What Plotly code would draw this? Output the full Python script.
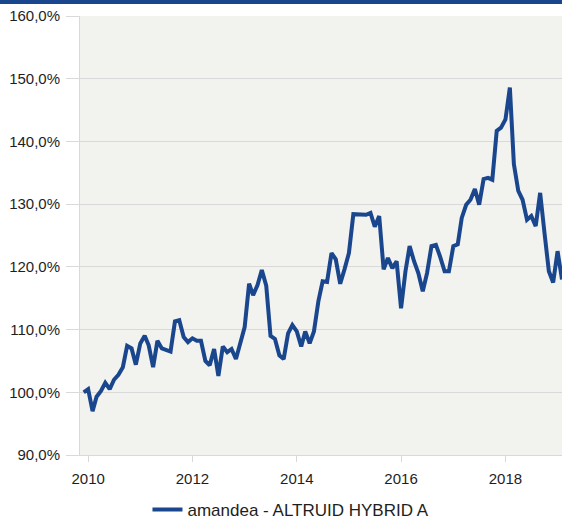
import pandas as pd
import plotly.graph_objects as go

# Monthly performance index of the fund (start = 100 %)
start_month = "2009-12-01"
fund_name = "amandea - ALTRUID HYBRID A"
fund_values = [
    100.0, 100.5, 97.0, 99.3, 100.2, 101.5, 100.5, 102.0, 102.8, 104.0,
    107.4, 107.0, 104.4, 107.8, 109.0, 107.5, 104.0, 108.2, 107.0, 106.8,
    106.5, 111.3, 111.5, 108.8, 108.0, 108.6, 108.2, 108.2, 105.0, 104.3,
    106.9, 102.6, 107.3, 106.4, 106.9, 105.3, 107.7, 110.4, 117.3, 115.5,
    117.1, 119.5, 117.0, 109.0, 108.5, 105.9, 105.3, 109.4, 110.7, 109.7,
    107.3, 109.7, 107.8, 109.7, 114.5, 117.7, 117.6, 122.2, 121.2, 117.3,
    119.6, 122.2, 128.4, 128.4, 128.4, 128.3, 128.6, 126.4, 128.1, 119.6,
    121.4, 119.8, 120.9, 113.4, 119.3, 123.3, 120.9, 119.0, 116.1, 119.0,
    123.3, 123.5, 121.6, 119.3, 119.3, 123.3, 123.6, 127.8, 129.9, 130.7,
    132.4, 129.9, 134.0, 134.2, 133.9, 141.7, 142.2, 143.5, 148.6, 136.4,
    132.1, 130.7, 127.5, 128.1, 126.5, 131.8, 125.5, 119.3, 117.5, 122.5,
    118.0,
]
y_ticks = [90, 100, 110, 120, 130, 140, 150, 160]
y_tick_text = [f"{v:.1f}".replace(".", ",") + "%" for v in y_ticks]

dates = pd.date_range(start_month, periods=len(fund_values), freq="MS")

BLUE = "#1a468e"
GRID = "#d9d9d9"
TEXT = "#1e1e1e"
FONT = "Liberation Sans"

fig = go.Figure()
fig.add_trace(go.Scatter(
    x=dates, y=fund_values, mode="lines", name=fund_name,
    line=dict(color=BLUE, width=4),
))

fig.update_layout(
    width=562, height=521,
    margin=dict(l=80, r=0, t=16, b=66, autoexpand=False),
    paper_bgcolor="white",
    plot_bgcolor="#f2f2ef",
    font=dict(family=FONT, size=15, color=TEXT),
    showlegend=True,
    legend=dict(
        orientation="h", x=0.14, xanchor="left", y=-0.125, yanchor="middle",
        font=dict(family=FONT, size=17, color=TEXT),
        bgcolor="rgba(0,0,0,0)",
    ),
    xaxis=dict(
        range=["2009-11-05", "2019-02-01"],
        tick0="2010-01-01", dtick="M24", tickformat="%Y",
        showgrid=False, showline=True, linecolor=GRID, linewidth=1,
        ticks="outside", ticklen=6, tickcolor=GRID, ticklabelstandoff=4,
        tickfont=dict(family=FONT, size=15, color=TEXT),
        zeroline=False,
    ),
    yaxis=dict(
        range=[90, 160], tickvals=y_ticks, ticktext=y_tick_text,
        showgrid=True, gridcolor=GRID, gridwidth=1,
        showline=True, linecolor=GRID, linewidth=1,
        ticks="outside", ticklen=13, tickcolor=GRID, ticklabelstandoff=3,
        tickfont=dict(family=FONT, size=15, color=TEXT),
        zeroline=False,
    ),
    shapes=[dict(
        type="rect", xref="paper", yref="paper",
        x0=-80 / 482, x1=1, y0=1 + 12 / 439, y1=1 + 17 / 439,
        fillcolor=BLUE, line=dict(width=0), layer="above",
    )],
)

fig.write_html("out.html")
